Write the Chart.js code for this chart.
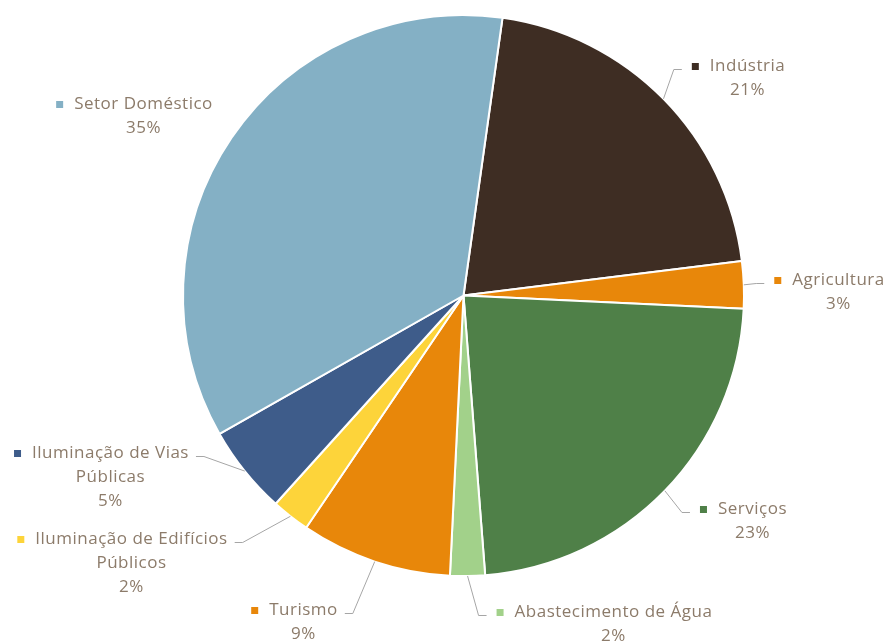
<!DOCTYPE html>
<html>
<head>
<meta charset="utf-8">
<script src="https://cdn.jsdelivr.net/npm/chart.js@4.4.0/dist/chart.umd.min.js"></script>
<style>
  html, body { margin: 0; padding: 0; background: #ffffff; }
  #wrap { width: 888px; height: 642px; position: relative; }
</style>
</head>
<body>
<div id="wrap"><canvas id="consumo"></canvas></div>
<script>
// Categories (multi-line names wrap like the original labels)
const categories = [
  ["Indústria"],
  ["Agricultura"],
  ["Serviços"],
  ["Abastecimento de Água"],
  ["Turismo"],
  ["Iluminação de Edifícios", "Públicos"],
  ["Iluminação de Vias", "Públicas"],
  ["Setor Doméstico"],
];
// Share of consumption (%)
const shares = [20.8, 2.7, 23.0, 2.0, 8.7, 2.2, 5.1, 35.4];

const sliceColors = [
  "#3e2d23", // Indústria
  "#e8870a", // Agricultura
  "#4f8048", // Serviços
  "#a2d18a", // Abastecimento de Água
  "#e8870a", // Turismo
  "#fdd43a", // Edifícios
  "#3e5c8a", // Vias
  "#84b0c5", // Setor Doméstico
];

const TEXT = "#8c7b6a";
const LEADER = "#a6a6a6";

// Label placement relative to pie centre: [dx, dy, showLeader]
const labelLayout = [
  [284, -229, true],
  [375, -15, true],
  [289, 214, true],
  [150, 317, true],
  [-160, 315, true],
  [-332, 244, true],
  [-353, 158, true],
  [-320, -191, false],
];

/* ── Outside labels with leader lines ── */
const outsideLabels = {
  id: "outsideLabels",
  afterDraw(chart) {
    const ctx = chart.ctx;
    const meta = chart.getDatasetMeta(0);
    const total = shares.reduce((a, b) => a + b, 0);
    const lineH = 24, mSize = 7, mGap = 11;
    ctx.save();
    ctx.font = "17px 'Open Sans', sans-serif";
    ctx.letterSpacing = "0.5px";
    ctx.textAlign = "center";
    ctx.textBaseline = "middle";
    meta.data.forEach((arc, i) => {
      const p = arc.getProps(["x", "y", "startAngle", "endAngle", "outerRadius"], true);
      const mid = (p.startAngle + p.endAngle) / 2;
      const ex = p.x + Math.cos(mid) * p.outerRadius;
      const ey = p.y + Math.sin(mid) * p.outerRadius;
      const [dx, dy, leader] = labelLayout[i];
      const cx = p.x + dx, ty = p.y + dy;
      const lines = categories[i].concat([Math.round(shares[i] / total * 100) + "%"]);
      const w0 = ctx.measureText(lines[0]).width;

      ctx.fillStyle = TEXT;
      lines.forEach((t, k) => ctx.fillText(t, cx, ty + k * lineH));

      const mx = cx - w0 / 2 - mGap - mSize;
      ctx.fillStyle = sliceColors[i];
      ctx.fillRect(mx, ty - mSize / 2, mSize, mSize);

      if (!leader) return;
      const ly = ty + 3;
      let endX, elbowX;
      if (dx > 0) {
        endX = mx - 10;
        elbowX = endX - 8;
      } else {
        endX = cx + w0 / 2 + 7;
        elbowX = endX + 8;
      }
      ctx.strokeStyle = LEADER;
      ctx.lineWidth = 1;
      ctx.beginPath();
      ctx.moveTo(ex, ey);
      const straight = dx > 0 ? ex >= elbowX : ex <= elbowX;
      if (!straight) ctx.lineTo(elbowX, ly);
      ctx.lineTo(endX, ly);
      ctx.stroke();
    });
    ctx.restore();
  },
};

new Chart(document.getElementById("consumo"), {
  type: "pie",
  data: {
    labels: categories,
    datasets: [{
      data: shares,
      backgroundColor: sliceColors,
      borderColor: "#ffffff",
      borderWidth: 2,
    }],
  },
  options: {
    responsive: true,
    maintainAspectRatio: false,
    animation: false,
    rotation: 8,
    layout: { padding: { top: 14, bottom: 65, left: 182, right: 143 } },
    plugins: {
      legend: { display: false },
      tooltip: { enabled: false },
    },
  },
  plugins: [outsideLabels],
});
</script>
</body>
</html>
